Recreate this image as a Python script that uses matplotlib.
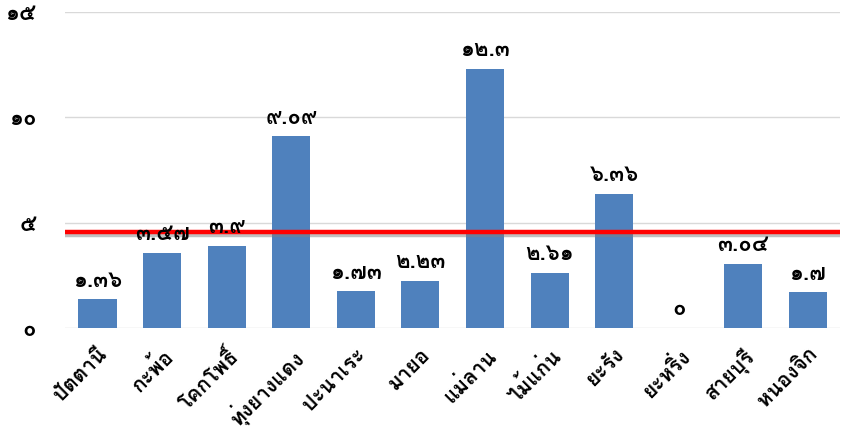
import matplotlib
matplotlib.use("Agg")
import matplotlib.pyplot as plt
import matplotlib.patheffects as pe
from matplotlib import font_manager
from matplotlib.ft2font import FT2Font

categories = ["ปัตตานี", "กะพ้อ", "โคกโพธิ์", "ทุ่งยางแดง", "ปะนาเระ", "มายอ",
              "แม่ลาน", "ไม้แก่น", "ยะรัง", "ยะหริ่ง", "สายบุรี", "หนองจิก"]
values = [1.36, 3.57, 3.9, 9.09, 1.73, 2.23, 12.3, 2.61, 6.36, 0, 3.04, 1.7]
value_labels = ["๑.๓๖", "๓.๕๗", "๓.๙", "๙.๐๙", "๑.๗๓", "๒.๒๓", "๑๒.๓", "๒.๖๑",
                "๖.๓๖", "๐", "๓.๐๔", "๑.๗"]
yticks = [0, 5, 10, 15]
ytick_labels = ["๐", "๕", "๑๐", "๑๕"]
ref_value = 4.55

# find a font that has Thai glyphs
thai_font = None
for f in font_manager.fontManager.ttflist:
    try:
        cm = FT2Font(f.fname).get_charmap()
        if 0x0E01 in cm and 0x0E51 in cm:
            thai_font = f.name
            if "Bold" in f.fname or f.weight in ("bold", 700):
                break
    except Exception:
        pass
fams = ([thai_font] if thai_font else []) + ["DejaVu Sans"]
plt.rcParams["font.family"] = fams

fig = plt.figure(figsize=(8.47, 4.43), dpi=100)
ax = fig.add_axes([0.077, 0.26, 0.915, 0.713])

x = list(range(len(categories)))
ax.bar(x, values, width=0.59, color="#4F81BD", zorder=2)
ax.set_xlim(-0.5, len(categories) - 0.5)
ax.set_ylim(0, 15)

for xi, v, lab in zip(x, values, value_labels):
    ax.text(xi, v + 0.4, lab, ha="center", va="bottom", fontsize=16,
            fontweight="bold", color="black", zorder=4)

ax.axhline(ref_value, color="#FF0000", lw=3.2, zorder=3,
           path_effects=[pe.SimpleLineShadow(offset=(0, -2.5), shadow_color="gray", alpha=0.5),
                         pe.Normal()])

ax.set_yticks(yticks)
ax.set_yticklabels(ytick_labels, fontsize=16, fontweight="bold")
ax.set_xticks(x)
ax.set_xticklabels(categories, rotation=45, ha="right", rotation_mode="anchor",
                   fontsize=15, fontweight="bold")
ax.tick_params(axis="both", length=0)
ax.tick_params(axis="y", pad=21)
ax.tick_params(axis="x", pad=12)
ax.grid(axis="y", color="#D9D9D9", lw=1, zorder=0)
for s in ax.spines.values():
    s.set_visible(False)

fig.savefig("out.png", dpi=100)
